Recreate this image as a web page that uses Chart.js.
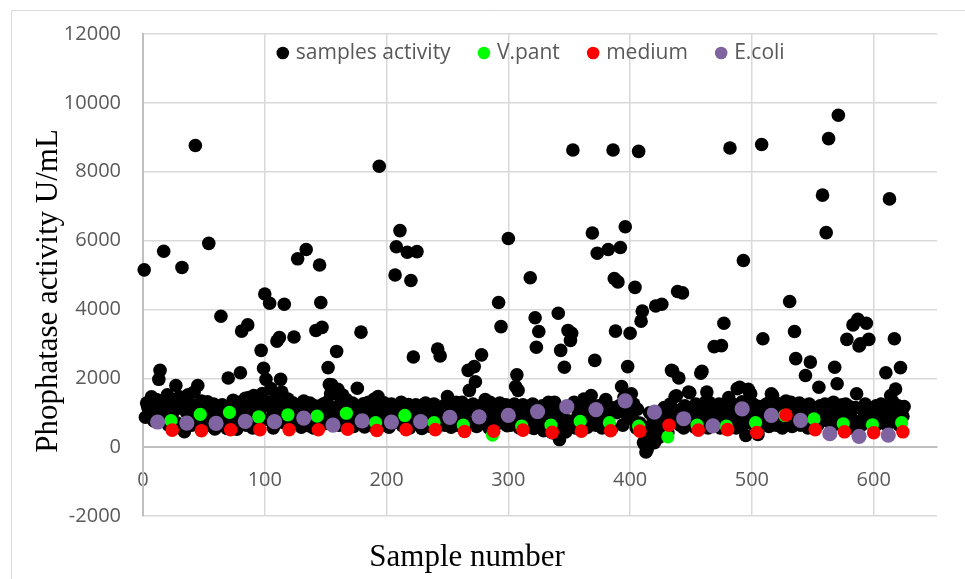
<!DOCTYPE html>
<html>
<head>
<meta charset="utf-8">
<title>Phophatase activity</title>
<script src="https://cdn.jsdelivr.net/npm/chart.js@4"></script>
<style>
  body { margin: 0; background: #fff; }
  canvas { display: block; }
</style>
</head>
<body>
<canvas id="chart-area" width="965" height="579"></canvas>
<script>
// sample activity, index 0 = sample 1
const activity = [
  5150, 870, 1280, 1150, 1300, 980, 1465, 1220, 760, 1050, 1380, 900, 1970, 2230, 1100, 1350, 5690, 820, 1240, 1520, 640, 1180, 1400, 960, 1330,
  1080, 1790, 700, 1250, 1460, 560, 5220, 1120, 450, 1380, 990, 1520, 830, 1260, 640, 1150, 1600, 8760, 920, 1790, 1200, 700, 1340, 560, 1050,
  1230, 880, 1320, 5920, 640, 1100, 760, 1250, 530, 960, 1180, 700, 1000, 3800, 1230, 620, 870, 1120, 540, 2010, 780, 1050, 600, 1360, 900,
  1180, 520, 1000, 1300, 2160, 3370, 760, 1120, 1420, 640, 3550, 1440, 980, 1220, 560, 1500, 870, 1150, 690, 1330, 1040, 2810, 1560, 2290, 4450,
  1970, 1300, 800, 4180, 1700, 1120, 560, 1380, 900, 3080, 1220, 3180, 1970, 1600, 720, 4150, 1250, 1050, 1400, 640, 1180, 860, 1290, 3200, 980,
  1100, 5470, 760, 1230, 580, 1050, 1340, 900, 5740, 1160, 620, 1280, 850, 1020, 560, 1200, 3390, 760, 1100, 5290, 4200, 3480, 1250, 680, 1000,
  1300, 2310, 1820, 1550, 1810, 880, 1550, 1150, 2780, 1680, 640, 1250, 980, 1510, 720, 1100, 1380, 560, 1020, 1200, 830, 1280, 600, 1080, 940,
  1710, 1180, 700, 3340, 1040, 1260, 590, 1100, 880, 1300, 650, 1060, 1180, 780, 1400, 560, 1230, 1470, 8160, 900, 1120, 640, 1290, 1000, 760,
  1120, 580, 980, 1250, 700, 1050, 5000, 5820, 1180, 880, 6290, 1300, 620, 1020, 1150, 760, 5660, 1240, 560, 4840, 1100, 2620, 900, 1230, 5680,
  680, 1060, 1200, 540, 1150, 860, 1280, 700, 1000, 1180, 600, 1090, 820, 1250, 960, 560, 2850, 1120, 2650, 760, 1020, 1200, 640, 1080, 1470,
  900, 1150, 580, 1230, 760, 1040, 1300, 640, 1100, 880, 1180, 1300, 560, 1020, 760, 1200, 2230, 1650, 700, 1090, 1250, 2340, 1900, 600, 1120,
  900, 1050, 2680, 1240, 680, 1380, 960, 1180, 560, 1300, 820, 1100, 650, 1220, 920, 1060, 4200, 1280, 3500, 700, 1150, 860, 1230, 620, 6060,
  1180, 640, 1020, 880, 1250, 1760, 2100, 1650, 560, 1100, 960, 1230, 620, 1060, 820, 1180, 700, 4920, 1020, 1250, 540, 3760, 2900, 900, 3360,
  1100, 640, 1200, 480, 960, 1140, 580, 1300, 820, 1000, 420, 1220, 1300, 500, 880, 3890, 220, 2810, 650, 1060, 2320, 440, 1150, 3390, 760,
  3100, 3310, 8630, 1300, 560, 1180, 900, 1060, 620, 1250, 980, 1400, 700, 1120, 580, 1300, 860, 1500, 6220, 1050, 2520, 640, 5630, 1200, 900,
  1100, 560, 1250, 820, 1380, 680, 5740, 1060, 1160, 540, 8630, 4900, 3370, 1000, 4800, 1200, 5800, 1760, 640, 1450, 6400, 960, 2340, 1120, 3310,
  1550, 820, 1250, 4640, 560, 1100, 8590, 700, 3660, 3950, 130, 70, -140, -70, 300, 1000, 620, 180, 840, 130, 4100, 280, 560, 290, 900,
  4150, 700, 1150, 560, 980, 420, 820, 1250, 2230, 2210, 900, 1470, 1490, 4520, 2010, 640, 1100, 4480, 560, 1200, 860, 1020, 1600, 1580, 700,
  1150, 940, 580, 1250, 820, 1060, 640, 2150, 2200, 1180, 900, 1320, 1600, 560, 1300, 1020, 760, 1200, 2920, 640, 1100, 880, 1250, 560, 2950,
  1000, 3600, 1160, 700, 1280, 1440, 8690, 620, 1050, 900, 1230, 560, 1700, 1100, 1740, 820, 1320, 5420, 680, 340, 1150, 1680, 1600, 1550, 900,
  1250, 640, 1080, 560, 370, 1180, 860, 8790, 3150, 1020, 700, 1250, 1150, 600, 1320, 1550, 1500, 880, 1200, 640, 1080, 1260, 760, 1150, 560,
  1020, 1230, 1340, 700, 1100, 4230, 1300, 600, 900, 3360, 2570, 1150, 760, 1280, 640, 1060, 1200, 880, 2080, 1100, 560, 1250, 2470, 980, 720,
  1150, 880, 1050, 640, 1740, 1200, 1100, 7320, 900, 1250, 6230, 760, 8960, 1020, 1150, 600, 1300, 2320, 880, 1840, 9640, 1100, 700, 1230, 1020,
  640, 1250, 3130, 900, 1180, 560, 1060, 3550, 760, 1150, 1550, 3710, 2940, 3000, 640, 1120, 880, 1250, 3600, 980, 3130, 700, 1100, 860, 1020,
  600, 1200, 900, 1100, 700, 1250, 820, 1050, 1180, 2160, 640, 1100, 7210, 1500, 900, 1300, 3150, 1690, 1000, 1200, 640, 2310, 1150, 900, 1180
];

// controls
const vpantX = [23, 47, 71, 95, 119, 143, 167, 191, 215, 239, 263, 287, 311, 335, 359, 383, 407, 431, 455, 479, 503, 527, 551, 575, 599, 623];
const vpantY = [770, 950, 1010, 880, 940, 900, 985, 710, 920, 710, 640, 350, 610, 640, 750, 710, 610, 300, 640, 610, 710, 920, 820, 680, 650, 710];

const mediumX = [24, 48, 72, 96, 120, 144, 168, 192, 216, 240, 264, 288, 312, 336, 360, 384, 408, 432, 456, 480, 504, 528, 552, 576, 600, 624];
const mediumY = [495, 475, 505, 510, 505, 505, 520, 485, 510, 510, 455, 465, 495, 430, 465, 475, 465, 635, 495, 510, 425, 935, 510, 445, 420, 445];

const ecoliX = [12, 36, 60, 84, 108, 132, 156, 180, 204, 228, 252, 276, 300, 324, 348, 372, 396, 420, 444, 468, 492, 516, 540, 564, 588, 612];
const ecoliY = [730, 700, 690, 750, 740, 845, 640, 765, 730, 740, 865, 880, 920, 1035, 1175, 1090, 1345, 1015, 825, 615, 1110, 920, 780, 390, 315, 350];

const yTicks = [-2000, 0, 2000, 4000, 6000, 8000, 10000, 12000];

function pts(xs, ys) {
  return xs.map((x, i) => ({ x: x, y: ys[i] }));
}

const tickFont = { family: '"Open Sans"', size: 20 };

// frame, legend and axis titles drawn on top
const extras = {
  id: 'extras',
  beforeDraw(chart) {
    const c = chart.ctx;
    c.save();
    c.strokeStyle = '#d9d9d9';
    c.lineWidth = 1;
    c.beginPath();
    c.moveTo(11.5, 579);
    c.lineTo(11.5, 10.5);
    c.lineTo(965, 10.5);
    c.stroke();
    c.restore();
  },
  afterDraw(chart) {
    const c = chart.ctx;
    c.save();
    c.font = '21px "Open Sans"';
    c.textBaseline = 'middle';
    let x = 276.5;
    chart.data.datasets.forEach(ds => {
      c.fillStyle = ds.backgroundColor;
      c.beginPath();
      c.arc(x + 6.3, 53, 6.3, 0, Math.PI * 2);
      c.fill();
      c.fillStyle = '#595959';
      c.fillText(ds.label, x + 19.3, 53);
      x += 19.3 + c.measureText(ds.label).width + 27;
    });

    c.font = '31px "Liberation Serif"';
    c.fillStyle = '#000';
    c.textAlign = 'center';
    c.fillText('Sample number', 467, 558);
    c.translate(49, 291);
    c.rotate(-Math.PI / 2);
    c.fillText('Phophatase activity U/mL', 0, 0);
    c.restore();
  }
};

const chart = new Chart(document.getElementById('chart-area').getContext('2d'), {
  type: 'scatter',
  data: {
    datasets: [{
      label: 'samples activity',
      data: activity.map((v, i) => ({ x: i + 1, y: v })),
      backgroundColor: '#000000',
      pointRadius: 6.8,
      pointBorderWidth: 0,
      order: 4
    }, {
      label: 'V.pant',
      data: pts(vpantX, vpantY),
      backgroundColor: '#00ff00',
      pointRadius: 6.6,
      pointBorderWidth: 0,
      order: 3
    }, {
      label: 'medium',
      data: pts(mediumX, mediumY),
      backgroundColor: '#ff0000',
      pointRadius: 6.8,
      pointBorderWidth: 0,
      order: 2
    }, {
      label: 'E.coli',
      data: pts(ecoliX, ecoliY),
      backgroundColor: '#8064a2',
      pointRadius: 7.6,
      pointBorderWidth: 0,
      order: 1
    }]
  },
  options: {
    responsive: false,
    animation: false,
    events: [],
    clip: false,
    layout: { padding: { left: 30, top: 23, right: 28, bottom: 63 } },
    plugins: {
      legend: { display: false },
      tooltip: { enabled: false }
    },
    scales: {
      x: {
        type: 'linear',
        position: { y: 0 },
        min: 0,
        max: 652,
        ticks: { stepSize: 100, padding: 21, font: tickFont, color: '#595959', callback: v => String(v) },
        grid: { color: '#d9d9d9', lineWidth: 1.5, drawTicks: false },
        border: { color: '#bfbfbf', width: 2 },
        afterBuildTicks: s => { s.ticks = s.ticks.filter(t => t.value % 100 === 0); }
      },
      y: {
        min: yTicks[0],
        max: yTicks[yTicks.length - 1],
        ticks: { stepSize: 2000, padding: 22, font: tickFont, color: '#595959', callback: v => String(v) },
        grid: { color: '#d9d9d9', lineWidth: 1.5, drawTicks: false },
        border: { color: '#bfbfbf', width: 2 },
        afterBuildTicks: s => { s.ticks = yTicks.map(v => ({ value: v })); },
        afterFit: s => { s.width = 113; }
      }
    }
  },
  plugins: [extras]
});
</script>
</body>
</html>
